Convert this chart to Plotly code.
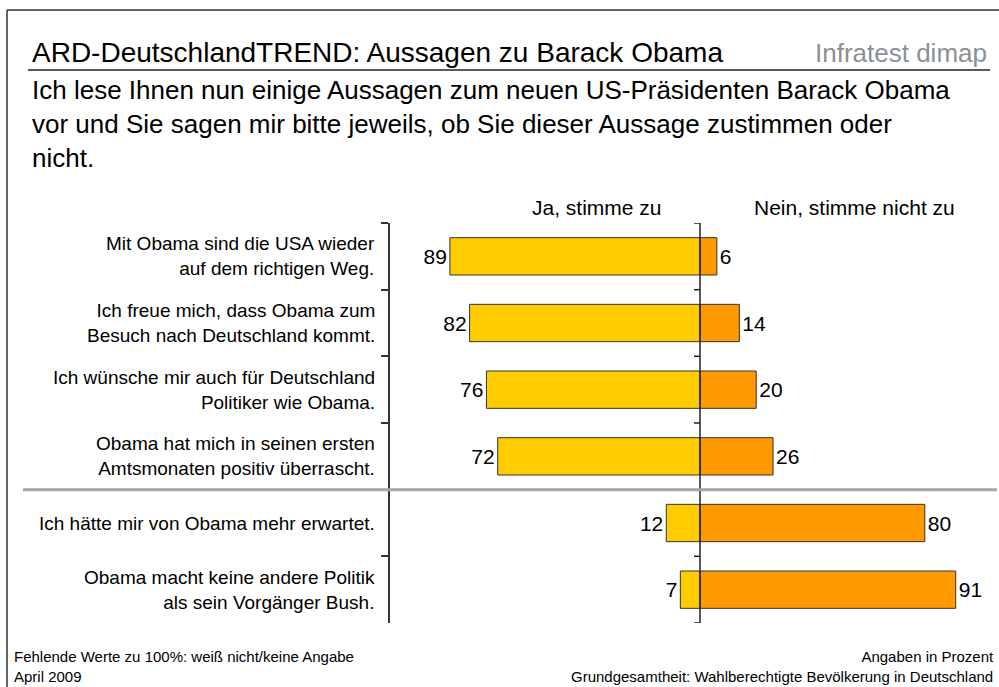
import plotly.graph_objects as go

# ---------------- data ----------------
statements = [
    "Mit Obama sind die USA wieder\nauf dem richtigen Weg.",
    "Ich freue mich, dass Obama zum\nBesuch nach Deutschland kommt.",
    "Ich wünsche mir auch für Deutschland\nPolitiker wie Obama.",
    "Obama hat mich in seinen ersten\nAmtsmonaten positiv überrascht.",
    "Ich hätte mir von Obama mehr erwartet.",
    "Obama macht keine andere Politik\nals sein Vorgänger Bush.",
]
ja_values = [89, 82, 76, 72, 12, 7]
nein_values = [6, 14, 20, 26, 80, 91]
series_names = ["Ja, stimme zu", "Nein, stimme nicht zu"]

title_text = "ARD-DeutschlandTREND: Aussagen zu Barack Obama"
brand_text = "Infratest dimap"
question_text = ("Ich lese Ihnen nun einige Aussagen zum neuen US-Präsidenten Barack Obama<br>"
                 "vor und Sie sagen mir bitte jeweils, ob Sie dieser Aussage zustimmen oder<br>"
                 "nicht.")
footer_left = "Fehlende Werte zu 100%: weiß nicht/keine Angabe<br>April 2009"
footer_right = "Angaben in Prozent<br>Grundgesamtheit: Wahlberechtigte Bevölkerung in Deutschland"

# ---------------- layout helpers ----------------
W, H = 999, 687
FONT = "Liberation Sans, Arial, Helvetica, sans-serif"


def px(xp):
    return xp / W


def py(yp):
    return 1 - yp / H


cats = [s.replace("\n", " ") for s in statements]
n = len(cats)

YELLOW = "#FFCC00"
ORANGE = "#FF9900"
EDGE = "#333333"

fig = go.Figure()
fig.add_trace(go.Bar(
    name=series_names[0], y=cats, x=[-v for v in ja_values], orientation="h",
    marker=dict(color=YELLOW, line=dict(color=EDGE, width=1)),
    width=0.56, text=[str(v) for v in ja_values], textposition="outside",
    textfont=dict(size=21, color="black", family=FONT), constraintext="none",
    cliponaxis=False, hoverinfo="skip",
))
fig.add_trace(go.Bar(
    name=series_names[1], y=cats, x=nein_values, orientation="h",
    marker=dict(color=ORANGE, line=dict(color=EDGE, width=1)),
    width=0.56, text=[str(v) for v in nein_values], textposition="outside",
    textfont=dict(size=21, color="black", family=FONT), constraintext="none",
    cliponaxis=False, hoverinfo="skip",
))

ppu = 2.81  # pixels per percent
x_left_px, x_zero_px, x_right_px = 390, 700, 997
xr = [-(x_zero_px - x_left_px) / ppu, (x_right_px - x_zero_px) / ppu]

shapes = []
# center axis with boundary ticks
shapes.append(dict(type="line", xref="x", yref="y", x0=0, x1=0, y0=-0.5, y1=n - 0.5,
                   line=dict(color="#222222", width=1.5)))
for k in range(n + 1):
    b = k - 0.5
    shapes.append(dict(type="line", xref="x", yref="y", xsizemode="pixel", xanchor=0,
                       x0=-6, x1=0, y0=b, y1=b, line=dict(color="#222222", width=1.5)))
# grey separator between groups
shapes.append(dict(type="line", xref="paper", yref="y", x0=px(23), x1=px(997), y0=3.5, y1=3.5,
                   line=dict(color="#A6A6A6", width=3)))
# frame
shapes.append(dict(type="line", xref="paper", yref="paper", x0=px(7), x1=1, y0=py(10), y1=py(10),
                   line=dict(color="#333333", width=1.5)))
shapes.append(dict(type="line", xref="paper", yref="paper", x0=px(7), x1=px(7), y0=py(10), y1=0,
                   line=dict(color="#333333", width=1.5)))
# title underline
shapes.append(dict(type="line", xref="paper", yref="paper", x0=px(28), x1=px(990), y0=py(70), y1=py(70),
                   line=dict(color="#222222", width=1.5)))

ann = []
ann.append(dict(text=title_text, xref="paper", yref="paper", x=px(30), y=py(52.5),
                xanchor="left", yanchor="middle", showarrow=False,
                font=dict(size=28, color="black", family=FONT)))
ann.append(dict(text=brand_text, xref="paper", yref="paper", x=px(989), y=py(52.5),
                xanchor="right", yanchor="middle", showarrow=False,
                font=dict(size=26, color="#8A9096",
                          family="Liberation Sans Narrow, Arial Narrow, " + FONT)))
ann.append(dict(text=question_text, xref="paper", yref="paper", x=px(30), y=py(124),
                xanchor="left", yanchor="middle", align="left", showarrow=False,
                font=dict(size=26, color="black", family=FONT)))
ann.append(dict(text=series_names[0], xref="paper", yref="paper", x=px(597), y=py(207.5),
                xanchor="center", yanchor="middle", showarrow=False,
                font=dict(size=21, color="black", family=FONT)))
ann.append(dict(text=series_names[1], xref="paper", yref="paper", x=px(854), y=py(207.5),
                xanchor="center", yanchor="middle", showarrow=False,
                font=dict(size=21, color="black", family=FONT)))
ann.append(dict(text=footer_left, xref="paper", yref="paper", x=px(12), y=py(666),
                xanchor="left", yanchor="middle", align="left", showarrow=False,
                font=dict(size=15, color="black", family=FONT)))
ann.append(dict(text=footer_right, xref="paper", yref="paper", x=px(996), y=py(666),
                xanchor="right", yanchor="middle", align="right", showarrow=False,
                font=dict(size=15, color="black", family=FONT)))

# category labels (right-aligned next to the left axis)
for i, s in enumerate(statements):
    ann.append(dict(text=s.replace("\n", "<br>"), xref="paper", yref="y", x=px(377), y=i,
                    xanchor="right", yanchor="middle", align="right", showarrow=False,
                    font=dict(size=19, color="black", family=FONT)))

fig.update_layout(
    width=W, height=H, autosize=False,
    margin=dict(l=0, r=0, t=0, b=0, pad=0),
    paper_bgcolor="white", plot_bgcolor="white",
    barmode="overlay", showlegend=False,
    font=dict(family=FONT, color="black"),
    xaxis=dict(domain=[px(x_left_px), px(x_right_px)], range=xr, visible=False,
               fixedrange=True),
    yaxis=dict(type="category", categoryorder="array", categoryarray=cats,
               range=[n - 0.5, -0.5], domain=[py(623), py(223)],
               showline=True, linecolor="#333333", linewidth=1.5,
               ticks="outside", tickson="boundaries", ticklen=7, tickcolor="#333333",
               tickwidth=1.5, showticklabels=False, showgrid=False, zeroline=False,
               fixedrange=True),
    shapes=shapes, annotations=ann,
)

fig.write_html("out.html", config={"displayModeBar": False},
               post_script="document.body.style.margin='0';document.body.style.overflow='hidden';")
